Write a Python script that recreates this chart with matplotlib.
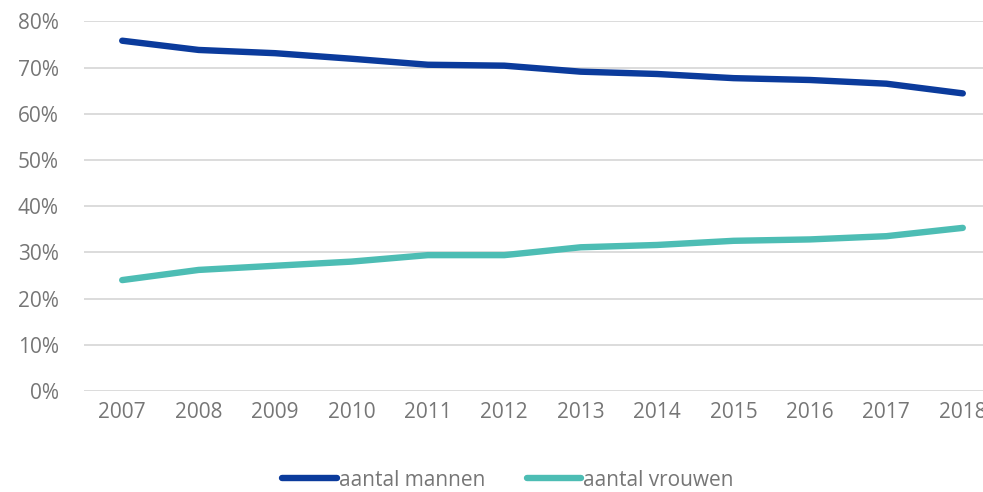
import matplotlib.pyplot as plt
from matplotlib.ticker import FuncFormatter

# data (share of men / women per year)
years = ['2007', '2008', '2009', '2010', '2011', '2012',
         '2013', '2014', '2015', '2016', '2017', '2018']
mannen = [75.8, 73.8, 73.1, 71.9, 70.6, 70.4, 69.1, 68.6, 67.7, 67.3, 66.5, 64.4]
vrouwen = [24.0, 26.2, 27.1, 28.0, 29.4, 29.4, 31.1, 31.6, 32.5, 32.8, 33.5, 35.3]
yticks = [0, 10, 20, 30, 40, 50, 60, 70, 80]

plt.rcParams['font.family'] = ['Open Sans', 'DejaVu Sans']
txt_color = '#767676'

fig = plt.figure(figsize=(9.83, 4.92), dpi=100)
# plot area runs a bit past the right edge, like the original screenshot
ax = fig.add_axes([84 / 983, 1 - 391 / 492, (1001 - 84) / 983, (391 - 21.3) / 492])

x = range(len(years))
ax.plot(x, mannen, color='#0B3B9C', lw=4.6, solid_capstyle='round', label='aantal mannen', zorder=3)
ax.plot(x, vrouwen, color='#4DBDB4', lw=4.6, solid_capstyle='round', label='aantal vrouwen', zorder=3)

ax.set_xlim(-0.5, len(years) - 0.5)
ax.set_ylim(0, 80)
ax.set_xticks(list(x))
ax.set_xticklabels(years)
ax.set_yticks(yticks)
ax.yaxis.set_major_formatter(FuncFormatter(lambda v, p: '%d%%' % v))

ax.grid(axis='y', color='#d9d9d9', lw=1.3)
ax.set_axisbelow(True)
for s in ax.spines.values():
    s.set_visible(False)
ax.tick_params(axis='both', length=0, labelsize=15, colors=txt_color)
ax.tick_params(axis='x', pad=8)
ax.tick_params(axis='y', pad=18)

leg = fig.legend(loc='center', bbox_to_anchor=(508 / 983, 1 - 480 / 492), ncol=2,
                 frameon=False, fontsize=15, handlelength=2.6, handletextpad=0.1,
                 columnspacing=2.0, borderpad=0.2)
for t in leg.get_texts():
    t.set_color(txt_color)

fig.savefig('out.png', dpi=100)
